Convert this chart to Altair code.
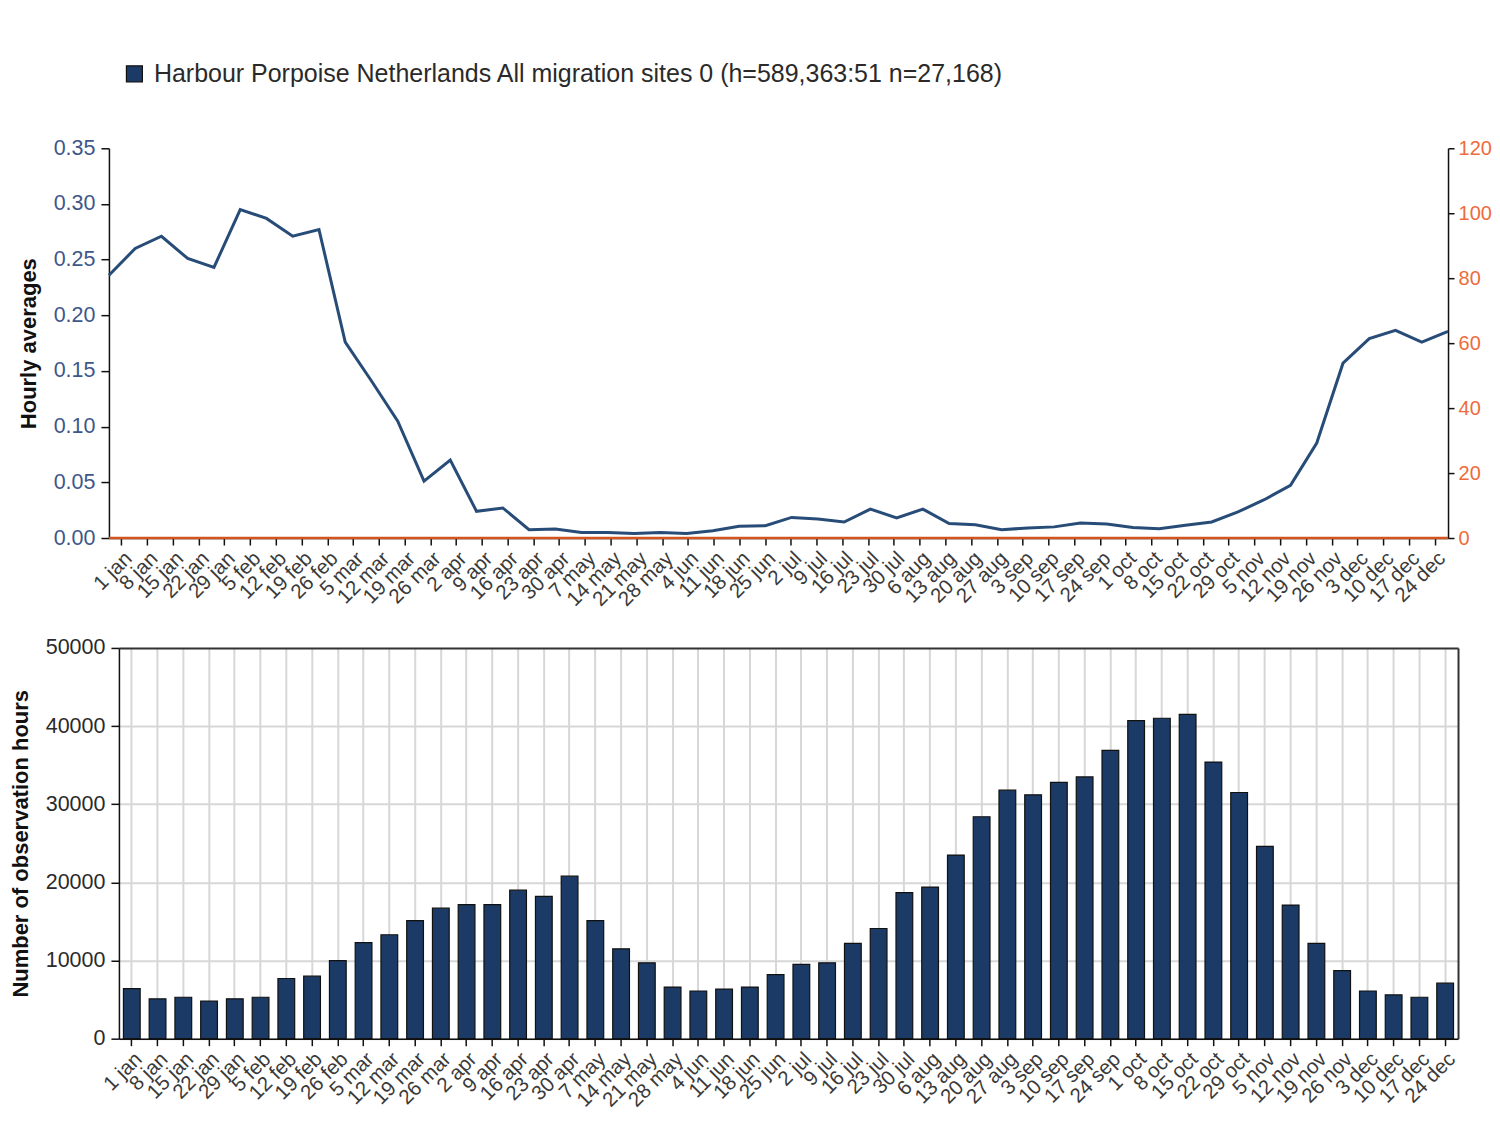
import altair as alt
import pandas as pd

weeks = ["1 jan", "8 jan", "15 jan", "22 jan", "29 jan", "5 feb", "12 feb", "19 feb", "26 feb",
         "5 mar", "12 mar", "19 mar", "26 mar", "2 apr", "9 apr", "16 apr", "23 apr", "30 apr",
         "7 may", "14 may", "21 may", "28 may", "4 jun", "11 jun", "18 jun", "25 jun",
         "2 jul", "9 jul", "16 jul", "23 jul", "30 jul", "6 aug", "13 aug", "20 aug", "27 aug",
         "3 sep", "10 sep", "17 sep", "24 sep", "1 oct", "8 oct", "15 oct", "22 oct", "29 oct",
         "5 nov", "12 nov", "19 nov", "26 nov", "3 dec", "10 dec", "17 dec", "24 dec"]

hourly_avg = [0.236, 0.260, 0.271, 0.251, 0.243, 0.295, 0.287, 0.271, 0.277,
              0.176, 0.141, 0.105, 0.051, 0.070, 0.024, 0.027, 0.0075, 0.008,
              0.005, 0.005, 0.004, 0.005, 0.004, 0.0066, 0.0105, 0.011,
              0.0185, 0.017, 0.0144, 0.026, 0.018, 0.026, 0.013, 0.012, 0.0075,
              0.009, 0.010, 0.0135, 0.0125, 0.0095, 0.0084, 0.0114, 0.0144, 0.0234,
              0.0344, 0.0473, 0.0853, 0.157, 0.179, 0.1865, 0.176, 0.1856]

second_series = [0, 0, 0, 0, 0, 0, 0, 0, 0, 0, 0, 0, 0, 0, 0, 0, 0, 0, 0, 0, 0, 0, 0, 0, 0, 0,
                 0, 0, 0, 0, 0, 0, 0, 0, 0, 0, 0, 0, 0, 0, 0, 0, 0, 0, 0, 0, 0, 0, 0, 0, 0, 0]

obs_hours = [6400, 5100, 5300, 4800, 5100, 5300, 7700, 8000, 10000,
             12300, 13300, 15100, 16700, 17150, 17150, 19000, 18200, 20800,
             15100, 11500, 9700, 6600, 6100, 6350, 6600, 8200,
             9500, 9700, 12200, 14100, 18700, 19400, 23500, 28400, 31800,
             31200, 32800, 33500, 36900, 40700, 41000, 41500, 35400, 31500,
             24600, 17100, 12200, 8700, 6100, 5600, 5300, 7100]

series_name = "Harbour Porpoise Netherlands All migration sites 0 (h=589,363:51 n=27,168)"

left_ticks = [0, 0.05, 0.10, 0.15, 0.20, 0.25, 0.30, 0.35]
right_ticks = [0, 20, 40, 60, 80, 100, 120]
bar_ticks = [0, 10000, 20000, 30000, 40000, 50000]

df = pd.DataFrame({
    "week": weeks,
    "avg": hourly_avg,
    "sec": second_series,
    "hours": obs_hours,
    "series": [series_name] * len(weeks),
})

NAVY = "#1b3b66"
LINE_BLUE = "#284c78"
RED = "#d4541f"
ORANGE = "#ee6b3b"
LABEL_GREY = "#3a3a3a"
FRAME = "#333333"
GRID = "#d7d7d7"
FONT = "Liberation Sans"

base = alt.Chart(df)

x_point = alt.X("week:N", sort=weeks, scale=alt.Scale(type="point", padding=0), axis=None)

x_axis_common = dict(
    title=None, labelAngle=-45, labelFontSize=20.5, labelColor=LABEL_GREY,
    labelFont=FONT, labelOverlap=False, tickColor="#111", tickSize=7, tickWidth=1.5,
    domainColor="#111", domainWidth=1.5, labelPadding=3, bandPosition=0.5,
)

# ---------------- top panel: hourly averages ----------------
axis_layer = base.mark_square(opacity=0, size=1).encode(
    x=alt.X("week:N", sort=weeks,
            scale=alt.Scale(type="band", paddingInner=0, paddingOuter=0),
            axis=alt.Axis(grid=False, **x_axis_common)),
    color=alt.Color("series:N", scale=alt.Scale(range=[NAVY]),
                    legend=alt.Legend(title=None, orient="none", legendX=13, legendY=-87,
                                      symbolType="square", symbolSize=256,
                                      symbolOpacity=1, symbolFillColor=NAVY,
                                      symbolStrokeColor="#111", symbolStrokeWidth=1.2,
                                      labelFontSize=25, labelFont=FONT,
                                      labelColor="#2a2a2a", labelLimit=1200,
                                      labelOffset=7)),
)

line = base.mark_line(color=LINE_BLUE, strokeWidth=3).encode(
    x=x_point,
    y=alt.Y("avg:Q", scale=alt.Scale(domain=[0, 0.35], nice=False),
            axis=alt.Axis(title="Hourly averages", orient="left", values=left_ticks,
                          format=".2f", grid=False, labelFontSize=21.5,
                          labelColor="#3e5689", labelFont=FONT, labelPadding=6,
                          tickSize=8, tickColor="#111", tickWidth=1.5,
                          domainColor="#111", domainWidth=1.5,
                          titleFontSize=22, titleFont=FONT, titleFontWeight="bold",
                          titleColor="#111", titlePadding=13)),
)

red = base.mark_line(color=RED, strokeWidth=2.5).encode(
    x=x_point,
    y=alt.Y("sec:Q", scale=alt.Scale(domain=[0, 120], nice=False),
            axis=alt.Axis(title=None, orient="right", values=right_ticks, grid=False,
                          labelFontSize=20, labelColor=ORANGE, labelFont=FONT,
                          labelPadding=4, tickSize=6, tickColor="#111", tickWidth=1.5,
                          domainColor="#111", domainWidth=1.5)),
)

top = alt.layer(axis_layer, line, red).resolve_scale(
    x="independent", y="independent"
).properties(width=1340, height=390, view=alt.ViewBackground(stroke=None))

# ---------------- bottom panel: observation hours ----------------
bars = base.mark_bar(color=NAVY, stroke="#111", strokeWidth=1.2).encode(
    x=alt.X("week:N", sort=weeks,
            scale=alt.Scale(type="band", paddingInner=0.35, paddingOuter=0.175,
                            range=[10, 1350]),
            axis=alt.Axis(grid=True, gridColor=GRID, gridWidth=2, **x_axis_common)),
    y=alt.Y("hours:Q", scale=alt.Scale(domain=[0, 50000], nice=False),
            axis=alt.Axis(title="Number of observation hours", values=bar_ticks, format="d",
                          offset=-10, grid=True,
                          gridColor={"condition": {"test": "datum.value === 50000",
                                                   "value": FRAME},
                                     "value": GRID},
                          gridWidth=2,
                          labelFontSize=21.5, labelColor="#2a2a2a", labelFont=FONT,
                          labelPadding=6, tickSize=8, tickColor="#111", tickWidth=1.5,
                          domainColor="#111", domainWidth=1.5,
                          titleFontSize=22, titleFont=FONT, titleFontWeight="bold",
                          titleColor="#111", titlePadding=13)),
)

frame_right = base.mark_point(opacity=0).encode(
    y=alt.Y("hours:Q",
            axis=alt.Axis(orient="right", labels=False, ticks=False, grid=False, title=None,
                          domainColor=FRAME, domainWidth=2)),
)

bottom = alt.layer(bars, frame_right).resolve_axis(y="independent").properties(
    width=1350, height=391, view=alt.ViewBackground(stroke=None))

chart = alt.vconcat(top, bottom, spacing=26).properties(
    padding={"top": 53, "left": 1, "right": 0, "bottom": 0},
    background="white",
).configure_view(stroke=None).configure(font=FONT)

chart.save("out.html", embed_options={"renderer": "svg", "actions": False})
